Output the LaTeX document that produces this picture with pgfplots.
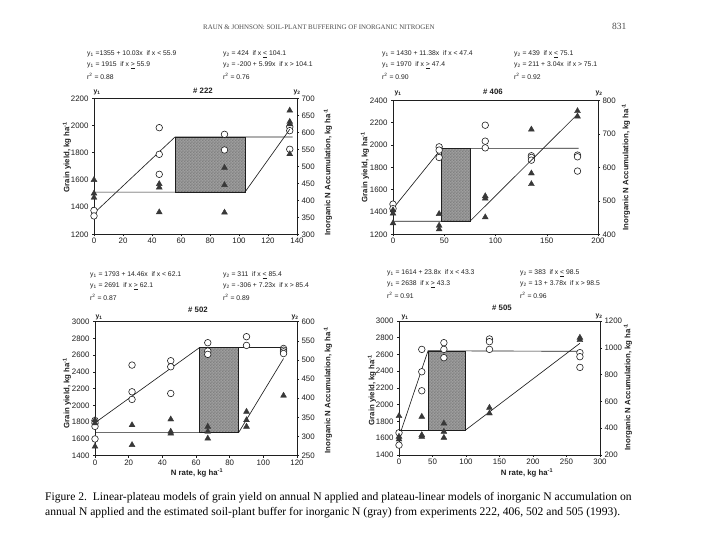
\documentclass[border=0pt]{standalone}
\usepackage{fontspec}
\setmainfont{Liberation Sans}
\newfontfamily\serifcap{Liberation Serif}
\usepackage{pgfplots}
\pgfplotsset{compat=1.18}
\usetikzlibrary{patterns}
\pgfdeclarepatternformonly{finecheck}{\pgfpointorigin}{\pgfpoint{3.2pt}{3.2pt}}{\pgfpoint{3.2pt}{3.2pt}}{%
  \pgfpathrectangle{\pgfpointorigin}{\pgfpoint{1.6pt}{1.6pt}}%
  \pgfpathrectangle{\pgfpoint{1.6pt}{1.6pt}}{\pgfpoint{1.6pt}{1.6pt}}%
  \pgfusepath{fill}}
\definecolor{ink}{gray}{0.12}
\definecolor{trifill}{gray}{0.22}
\pgfplotsset{
  panel/.style={scale only axis, anchor=south west, clip=false,
    axis line style={line width=0.9pt, ink},
    tick align=outside, major tick length=2pt,
    tick style={line width=0.5pt, ink},
    ticklabel style={font=\fontsize{7.9}{8}\selectfont, text=ink},
    xticklabel style={yshift=1.5pt},
    /pgf/number format/assume math mode=true,
    /pgf/number format/1000 sep={}},
  leftax/.style={panel, ytick pos=left, xtick pos=bottom},
  rightax/.style={panel, axis x line=none, axis y line*=right, ytick pos=right,
    yticklabel style={xshift=-1pt}},
  rect/.style={draw=ink, line width=0.6pt, fill=black!38,
    postaction={pattern=finecheck, pattern color=black!50}},
  fitline/.style={ink, line width=0.65pt, no marks},
  circ/.style={only marks, mark=*, mark size=3.3pt,
    mark options={fill=white, draw=ink, line width=0.6pt}},
  tri/.style={only marks, mark=triangle*, mark size=3.4pt,
    mark options={fill=trifill, draw=trifill}},
}
\newcommand{\eqf}{\fontsize{6.8}{8}\selectfont}
\newcommand{\labf}{\fontsize{7.8}{9}\selectfont\bfseries}
\begin{document}
\begin{tikzpicture}[x=1pt,y=1pt]
\path[fill=white] (0,0) rectangle (720,540);
% header
\node[anchor=west, text=black!70, inner sep=0pt] at (203,513) {\serifcap\fontsize{6.9}{8}\selectfont RAUN \& JOHNSON: SOIL-PLANT BUFFERING OF INORGANIC NITROGEN};
\node[anchor=west, text=black!70, inner sep=0pt] at (612,514) {\serifcap\fontsize{9.5}{10}\selectfont 831};
% caption
\node[anchor=west, text=black, inner sep=0pt] at (45,42) {\serifcap\fontsize{11.6}{13}\selectfont Figure 2.\ \ Linear-plateau models of grain yield on annual N applied and plateau-linear models of inorganic N accumulation on};
\node[anchor=west, text=black, inner sep=0pt] at (45,27) {\serifcap\fontsize{11.6}{13}\selectfont annual N applied and the estimated soil-plant buffer for inorganic N (gray) from experiments 222, 406, 502 and 505 (1993).};

% ===================== Panel 1: #222 =====================
\begin{axis}[leftax, at={(94pt,305.7pt)}, width=203pt, height=136pt,
  xmin=0, xmax=140, ymin=1200, ymax=2200,
  xtick={0,20,...,140}, ytick={1200,1400,...,2200}]
\addplot[rect] coordinates {(55.9,1510) (104.1,1510) (104.1,1915) (55.9,1915)} -- cycle;
\addplot[fitline] coordinates {(0,1355) (55.9,1915.7) (137,1915.7)};
\addplot[circ] coordinates {(0,1375) (0,1335) (45,1984) (45,1788) (45,1641) (90,1935) (90,1820) (135,1990) (135,1962) (135,1825)};
\end{axis}
\begin{axis}[rightax, at={(94pt,305.7pt)}, width=203pt, height=136pt,
  xmin=0, xmax=140, ymin=300, ymax=700, ytick={300,350,...,700}]
\addplot[fitline] coordinates {(0,424) (104.1,424) (135,608.7)};
\addplot[tri] coordinates {(0,460) (0,420) (0,408) (45,448) (45,438) (45,365) (90,496) (90,445) (90,364) (135,664) (135,631) (135,624) (135,536)};
\end{axis}

% ===================== Panel 2: #406 =====================
\begin{axis}[leftax, at={(393pt,305.7pt)}, width=205pt, height=134pt,
  xmin=0, xmax=200, ymin=1200, ymax=2400,
  xtick={0,50,...,200}, ytick={1200,1400,...,2400}]
\addplot[rect] coordinates {(47.4,1317) (75.1,1317) (75.1,1970) (47.4,1970)} -- cycle;
\addplot[fitline] coordinates {(0,1430) (47.4,1969.4) (181,1970)};
\addplot[circ] coordinates {(0,1470) (0,1430) (45,1983) (45,1954) (45,1888) (90,2177) (90,2034) (90,1974) (135,1903) (135,1888) (135,1864) (180,1909) (180,1894) (180,1766)};
\end{axis}
\begin{axis}[rightax, at={(393pt,305.7pt)}, width=205pt, height=134pt,
  xmin=0, xmax=200, ymin=400, ymax=800, ytick={400,500,...,800}]
\addplot[fitline] coordinates {(0,439) (75.1,439) (180,758.2)};
\addplot[tri] coordinates {(0,472) (0,462) (0,433) (45,461) (45,426) (45,415) (90,514) (90,507) (90,451) (135,713) (135,582) (135,550) (180,768) (180,752)};
\end{axis}

% ===================== Panel 3: #502 =====================
\begin{axis}[leftax, at={(95pt,84.3pt)}, width=202pt, height=134pt,
  xmin=0, xmax=120, ymin=1400, ymax=3000,
  xtick={0,20,...,120}, ytick={1400,1600,...,3000}]
\addplot[rect] coordinates {(62.1,1679) (85.4,1679) (85.4,2691) (62.1,2691)} -- cycle;
\addplot[fitline] coordinates {(0,1793) (62.1,2691) (113,2691)};
\addplot[circ] coordinates {(0,1820) (0,1790) (0,1750) (0,1600) (22,2482) (22,2163) (22,2072) (45,2534) (45,2462) (45,2143) (67,2749) (67,2649) (67,2610) (90,2821) (90,2717) (112,2680) (112,2660) (112,2640) (112,2620)};
\end{axis}
\begin{axis}[rightax, at={(95pt,84.3pt)}, width=202pt, height=134pt,
  xmin=0, xmax=120, ymin=250, ymax=600, ytick={250,300,...,600}]
\addplot[fitline] coordinates {(0,311) (85.4,311) (112,503.8)};
\addplot[tri] coordinates {(0,343) (0,335) (0,274) (22,330) (22,278) (45,345) (45,313) (45,308) (67,326) (67,313) (67,295) (90,365) (90,343) (90,326) (112,407)};
\end{axis}

% ===================== Panel 4: #505 =====================
\begin{axis}[leftax, at={(399pt,85pt)}, width=201pt, height=134pt,
  xmin=0, xmax=300, ymin=1400, ymax=3000,
  xtick={0,50,...,300}, ytick={1400,1600,...,3000}]
\addplot[rect] coordinates {(43.3,1693) (98.5,1693) (98.5,2638) (43.3,2638)} -- cycle;
\addplot[fitline] coordinates {(0,1614) (43.3,2644.5) (270,2638)};
\addplot[circ] coordinates {(0,1665) (0,1518) (34,2661) (34,2394) (34,2167) (67,2741) (67,2661) (67,2562) (135,2785) (135,2753) (135,2661) (270,2622) (270,2574) (270,2446)};
\end{axis}
\begin{axis}[rightax, at={(399pt,85pt)}, width=201pt, height=134pt,
  xmin=0, xmax=300, ymin=200, ymax=1200, ytick={200,400,...,1200}]
\addplot[fitline] coordinates {(0,383) (98.5,383) (270,1033.6)};
\addplot[tri] coordinates {(0,491) (0,337) (0,317) (34,486) (34,349) (34,337) (67,436) (67,374) (67,329) (135,553) (135,511) (270,1076) (270,1058)};
\end{axis}

% ===================== Texts =====================
\begin{scope}[every node/.style={text=ink, inner sep=0pt}]
% panel 1 equations
\node[anchor=west] at (87,486) {\eqf y\textsubscript{1} =1355 + 10.03x\ \ if x < 55.9};
\node[anchor=west] at (87,475) {\eqf y\textsubscript{1} = 1915\ \ if x \underline{>} 55.9};
\node[anchor=west] at (87,464) {\eqf r\textsuperscript{2} = 0.88};
\node[anchor=west] at (223,486) {\eqf y\textsubscript{2} = 424\ \ if x \underline{<} 104.1};
\node[anchor=west] at (223,475) {\eqf y\textsubscript{2} = -200 + 5.99x\ \ if x > 104.1};
\node[anchor=west] at (223,464) {\eqf r\textsuperscript{2} = 0.76};
% panel 2 equations
\node[anchor=west] at (382,486) {\eqf y\textsubscript{1} = 1430 + 11.38x\ \ if x < 47.4};
\node[anchor=west] at (382,475) {\eqf y\textsubscript{1} = 1970\ \ if x \underline{>} 47.4};
\node[anchor=west] at (382,464) {\eqf r\textsuperscript{2} = 0.90};
\node[anchor=west] at (514,486) {\eqf y\textsubscript{2} = 439\ \ if x \underline{<} 75.1};
\node[anchor=west] at (514,475) {\eqf y\textsubscript{2} = 211 + 3.04x\ \ if x > 75.1};
\node[anchor=west] at (514,464) {\eqf r\textsuperscript{2} = 0.92};
% panel 3 equations
\node[anchor=west] at (90,265) {\eqf y\textsubscript{1} = 1793 + 14.46x\ \ if x < 62.1};
\node[anchor=west] at (90,254) {\eqf y\textsubscript{1} = 2691\ \ if x \underline{>} 62.1};
\node[anchor=west] at (90,243) {\eqf r\textsuperscript{2} = 0.87};
\node[anchor=west] at (223,265) {\eqf y\textsubscript{2} = 311\ \ if x \underline{<} 85.4};
\node[anchor=west] at (223,254) {\eqf y\textsubscript{2} = -306 + 7.23x\ \ if x > 85.4};
\node[anchor=west] at (223,243) {\eqf r\textsuperscript{2} = 0.89};
% panel 4 equations
\node[anchor=west] at (387,267) {\eqf y\textsubscript{1} = 1614 + 23.8x\ \ if x < 43.3};
\node[anchor=west] at (387,256) {\eqf y\textsubscript{1} = 2638\ \ if x \underline{>} 43.3};
\node[anchor=west] at (387,245) {\eqf r\textsuperscript{2} = 0.91};
\node[anchor=west] at (520,267) {\eqf y\textsubscript{2} = 383\ \ if x \underline{<} 98.5};
\node[anchor=west] at (520,256) {\eqf y\textsubscript{2} = 13 + 3.78x\ \ if x > 98.5};
\node[anchor=west] at (520,245) {\eqf r\textsuperscript{2} = 0.96};
% titles
\node at (203,449) {\labf \# 222};
\node at (493,448) {\labf \# 406};
\node at (198,230) {\labf \# 502};
\node at (502,232) {\labf \# 505};
% y1 / y2 tags
\node at (97,448) {\eqf\bfseries y\textsubscript{1}};
\node at (297,448) {\eqf\bfseries y\textsubscript{2}};
\node at (398,447) {\eqf\bfseries y\textsubscript{1}};
\node at (599,447) {\eqf\bfseries y\textsubscript{2}};
\node at (99,223) {\eqf\bfseries y\textsubscript{1}};
\node at (295,223) {\eqf\bfseries y\textsubscript{2}};
\node at (405,223) {\eqf\bfseries y\textsubscript{1}};
\node at (599,224) {\eqf\bfseries y\textsubscript{2}};
% y labels
\node[rotate=90] at (67,383) {\labf Grain yield, kg ha\textsuperscript{-1}};
\node[rotate=90] at (328,368) {\labf Inorganic N Accumulation, kg ha\textsuperscript{-1}};
\node[rotate=90] at (365,373) {\labf Grain yield, kg ha\textsuperscript{-1}};
\node[rotate=90] at (626,373) {\labf Inorganic N Accumulation, kg ha\textsuperscript{-1}};
\node[rotate=90] at (67,147) {\labf Grain yield, kg ha\textsuperscript{-1}};
\node[rotate=90] at (328,150) {\labf Inorganic N Accumulation, kg ha\textsuperscript{-1}};
\node[rotate=90] at (372,150) {\labf Grain yield, kg ha\textsuperscript{-1}};
\node[rotate=90] at (628,153) {\labf Inorganic N Accumulation, kg ha\textsuperscript{-1}};
% x labels
\node at (197,67) {\labf N rate, kg ha\textsuperscript{-1}};
\node at (527,67) {\labf N rate, kg ha\textsuperscript{-1}};
\end{scope}
\useasboundingbox (0,0) rectangle (720,540);
\end{tikzpicture}
\end{document}
